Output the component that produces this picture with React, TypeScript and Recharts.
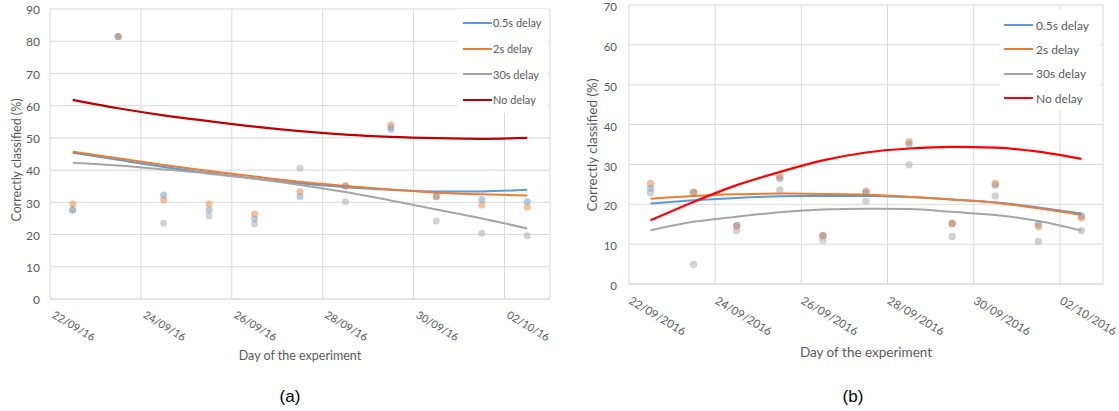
import React from "react";
import { LineChart, Line, XAxis, YAxis, CartesianGrid, Legend, Label } from "recharts";

// ---- shared categories ----
const dayIndex = [0, 1, 2, 3, 4, 5, 6, 7, 8, 9, 10];
const dayNames = ["22/09", "23/09", "24/09", "25/09", "26/09", "27/09", "28/09", "29/09", "30/09", "01/10", "02/10"];
const tickPositions = [-0.5, 1.5, 3.5, 5.5, 7.5, 9.5];
const ticksA = ["22/09/16", "24/09/16", "26/09/16", "28/09/16", "30/09/16", "02/10/16"];
const ticksB = ["22/09/2016", "24/09/2016", "26/09/2016", "28/09/2016", "30/09/2016", "02/10/2016"];
const yTicksA = [0, 10, 20, 30, 40, 50, 60, 70, 80, 90];
const yTicksB = [0, 10, 20, 30, 40, 50, 60, 70];
const seriesNames = ["0.5s delay", "2s delay", "30s delay", "No delay"];

// ---- chart (a) observations ----
const aDot05 = [27.6, 81.5, 32.3, 27.6, 24.8, 31.8, 35.1, 52.7, 31.8, 30.9, 30.2];
const aDot2 = [29.5, 81.5, 30.7, 29.5, 26.4, 33.3, 35.1, 54.0, 31.8, 29.2, 28.5];
const aDot30 = [27.6, 81.5, 23.5, 25.8, 23.3, 40.6, 30.2, 53.3, 24.2, 20.4, 19.6];
// ---- chart (a) trend lines ----
const aT05 = [45.4, 43.2, 41.0, 39.1, 37.4, 35.9, 34.7, 33.9, 33.4, 33.4, 33.9];
const aT2 = [45.7, 43.7, 41.6, 39.7, 38.0, 36.4, 35.1, 34.0, 33.0, 32.5, 32.1];
const aT30 = [42.3, 41.4, 40.2, 38.9, 37.3, 35.4, 33.2, 30.6, 27.8, 25.0, 21.9];
const aTNo = [61.8, 59.2, 57.0, 55.2, 53.5, 52.1, 51.0, 50.3, 49.9, 49.7, 50.0];

// ---- chart (b) observations ----
const bDot05 = [24.0, 23.0, 14.6, 26.5, 12.1, 23.0, 35.1, 15.2, 24.8, 15.0, 17.1];
const bDot2 = [25.2, 23.0, 14.6, 26.9, 12.1, 23.3, 35.7, 15.2, 25.2, 14.4, 16.6];
const bDot30 = [22.9, 4.9, 13.4, 23.6, 11.0, 20.8, 29.9, 11.9, 22.1, 10.7, 13.4];
// ---- chart (b) trend lines ----
const bT05 = [20.2, 21.0, 21.6, 22.0, 22.1, 22.1, 21.8, 21.2, 20.5, 19.2, 17.7];
const bT2 = [21.4, 22.1, 22.5, 22.7, 22.6, 22.4, 21.9, 21.2, 20.4, 19.0, 17.3];
const bT30 = [13.5, 15.6, 16.9, 18.0, 18.7, 18.9, 18.8, 18.1, 17.3, 15.8, 13.4];
const bTNo = [16.0, 20.6, 24.8, 28.1, 31.0, 33.0, 34.0, 34.4, 34.2, 33.2, 31.4];

const BLUE = "#5B9BD5";
const ORANGE = "#ED7D31";
const GREY = "#A5A5A5";
const TEXT = "#595959";
const GRID = "#D9D9D9";

const buildRows = (d05: number[], d2: number[], d30: number[], t05: number[], t2: number[], t30: number[], tNo: number[]) =>
  dayIndex.map((day, i) => ({
    day,
    name: dayNames[i],
    d05: d05[i],
    d2: d2[i],
    d30: d30[i],
    t05: t05[i],
    t2: t2[i],
    t30: t30[i],
    tNo: tNo[i],
  }));

const rowsA = buildRows(aDot05, aDot2, aDot30, aT05, aT2, aT30, aTNo);
const rowsB = buildRows(bDot05, bDot2, bDot30, bT05, bT2, bT30, bTNo);

const makeTick = (labels: string[], fontSize: number, dx: number, dy: number) => (props: any) => {
  const { x, y, payload } = props;
  const idx = Math.round((payload.value + 0.5) / 2);
  return (
    <g transform={`translate(${x + dx},${y + dy}) rotate(31)`}>
      <text x={0} y={0} textAnchor="start" fontSize={fontSize} fill={TEXT}>
        {labels[idx]}
      </text>
    </g>
  );
};

const makeLegend = (fontSize: number, rowH: number, padTop: number, padLeft: number, gap: number) => (props: any) => {
  const items = (props.payload || []).filter((p: any) => p.type !== "none");
  return (
    <div style={{ background: "#fff", paddingTop: padTop, paddingLeft: padLeft, height: "100%", boxSizing: "border-box" }}>
      {items.map((it: any) => (
        <div key={it.value} style={{ display: "flex", alignItems: "center", height: rowH, fontSize, color: TEXT, whiteSpace: "nowrap" }}>
          <svg width={29} height={4} style={{ display: "block", marginRight: gap }}>
            <line x1={0} y1={2} x2={29} y2={2} stroke={it.color} strokeWidth={2} />
          </svg>
          <span>{it.value}</span>
        </div>
      ))}
    </div>
  );
};

const dotStyle = (c: string, r: number) => ({ r, fill: c, fillOpacity: 0.5, stroke: "none", strokeWidth: 0 });

interface PanelProps {
  rows: any[];
  width: number;
  height: number;
  margin: any;
  yTicks: number[];
  yMax: number;
  yWidth: number;
  yTickGap: number;
  yTickFont: number;
  yTickDy: number;
  xHeight: number;
  tickLabels: string[];
  tickFont: number;
  tickDx: number;
  tickDy: number;
  titleFont: number;
  legendFont: number;
  legendPos: any;
  legendRow: number;
  legendPadTop: number;
  legendPadLeft: number;
  legendGap: number;
  red: string;
  dotR: number;
  xTitleDy: number;
  yTitleDx: number;
  yTitleDy: number;
}

const Panel = (p: PanelProps) => (
  <LineChart width={p.width} height={p.height} data={p.rows} margin={p.margin}>
    <CartesianGrid stroke={GRID} strokeWidth={1} />
    <XAxis
      type="number"
      dataKey="day"
      domain={[-0.5, 10.5]}
      ticks={tickPositions}
      interval={0}
      tickLine={false}
      tickSize={0}
      tickMargin={0}
      axisLine={{ stroke: GRID }}
      height={p.xHeight}
      tick={makeTick(p.tickLabels, p.tickFont, p.tickDx, p.tickDy)}
    >
      <Label
        content={(lp: any) => {
          const vb = lp.viewBox;
          return (
            <text x={vb.x + vb.width / 2} y={vb.y + p.xTitleDy} textAnchor="middle" fontSize={p.titleFont} fill={TEXT}>
              Day of the experiment
            </text>
          );
        }}
      />
    </XAxis>
    <YAxis
      type="number"
      domain={[0, p.yMax]}
      ticks={p.yTicks}
      interval={0}
      width={p.yWidth}
      tickLine={false}
      axisLine={false}
      tickSize={0}
      tickMargin={p.yTickGap}
      tick={{ fill: TEXT, fontSize: p.yTickFont, dy: p.yTickDy }}
    >
      <Label
        content={(lp: any) => {
          const vb = lp.viewBox;
          const cx = vb.x + p.yTitleDx;
          const cy = vb.y + vb.height / 2 + p.yTitleDy;
          return (
            <text x={cx} y={cy} transform={`rotate(-90 ${cx} ${cy})`} textAnchor="middle" fontSize={p.titleFont} fill={TEXT}>
              Correctly classified (%)
            </text>
          );
        }}
      />
    </YAxis>
    <Legend
      layout="vertical"
      align="center"
      verticalAlign="middle"
      wrapperStyle={p.legendPos}
      content={makeLegend(p.legendFont, p.legendRow, p.legendPadTop, p.legendPadLeft, p.legendGap)}
    />
    <Line dataKey="d05" stroke="none" strokeWidth={0} dot={dotStyle(BLUE, p.dotR)} activeDot={false} legendType="none" isAnimationActive={false} />
    <Line dataKey="d2" stroke="none" strokeWidth={0} dot={dotStyle(ORANGE, p.dotR)} activeDot={false} legendType="none" isAnimationActive={false} />
    <Line dataKey="d30" stroke="none" strokeWidth={0} dot={dotStyle(GREY, p.dotR)} activeDot={false} legendType="none" isAnimationActive={false} />
    <Line dataKey="t05" name={seriesNames[0]} type="monotone" stroke={BLUE} strokeWidth={2} dot={false} activeDot={false} isAnimationActive={false} />
    <Line dataKey="t2" name={seriesNames[1]} type="monotone" stroke={ORANGE} strokeWidth={2} dot={false} activeDot={false} isAnimationActive={false} />
    <Line dataKey="t30" name={seriesNames[2]} type="monotone" stroke={GREY} strokeWidth={2} dot={false} activeDot={false} isAnimationActive={false} />
    <Line dataKey="tNo" name={seriesNames[3]} type="monotone" stroke={p.red} strokeWidth={2.2} dot={false} activeDot={false} isAnimationActive={false} />
  </LineChart>
);

const caption: React.CSSProperties = {
  position: "absolute",
  top: 385,
  width: 60,
  height: 24,
  lineHeight: "24px",
  textAlign: "center",
  fontFamily: "'Liberation Sans', Arial, sans-serif",
  fontSize: 17,
  color: "#000",
};

export default function App() {
  return (
    <div style={{ position: "absolute", left: 0, top: 0, width: 1119, height: 411, background: "#fff", fontFamily: "Lato, 'Open Sans', sans-serif", overflow: "hidden" }}>
      <div style={{ position: "absolute", left: 0, top: 0 }}>
        <Panel
          rows={rowsA}
          width={580}
          height={372}
          margin={{ top: 9, right: 30, bottom: 23, left: 10 }}
          yTicks={yTicksA}
          yMax={90}
          yWidth={40}
          yTickGap={10}
          yTickFont={12}
          yTickDy={1}
          xHeight={50}
          tickLabels={ticksA}
          tickFont={10.8}
          tickDx={1.5}
          tickDy={18}
          titleFont={12.5}
          legendFont={11}
          legendPos={{ position: "absolute", left: 457, top: 9, width: 91, height: 104 }}
          legendRow={25.7}
          legendPadTop={1}
          legendPadLeft={6}
          legendGap={1}
          red="#C00000"
          dotR={3.5}
          xTitleDy={61}
          yTitleDx={11}
          yTitleDy={6}
        />
      </div>
      <div style={{ position: "absolute", left: 580, top: 0 }}>
        <Panel
          rows={rowsB}
          width={539}
          height={372}
          margin={{ top: 5, right: 16, bottom: 18, left: 5 }}
          yTicks={yTicksB}
          yMax={70}
          yWidth={44}
          yTickGap={12}
          yTickFont={11.5}
          yTickDy={2}
          xHeight={70}
          tickLabels={ticksB}
          tickFont={11.5}
          tickDx={-1}
          tickDy={19}
          titleFont={13.5}
          legendFont={12}
          legendPos={{ position: "absolute", left: 420, top: 10, width: 100, height: 100 }}
          legendRow={24.3}
          legendPadTop={3}
          legendPadLeft={4}
          legendGap={3}
          red="#FF0000"
          dotR={3.7}
          xTitleDy={73}
          yTitleDx={11.5}
          yTitleDy={0.5}
        />
      </div>
      <div style={{ ...caption, left: 260 }}>(a)</div>
      <div style={{ ...caption, left: 823 }}>(b)</div>
    </div>
  );
}
